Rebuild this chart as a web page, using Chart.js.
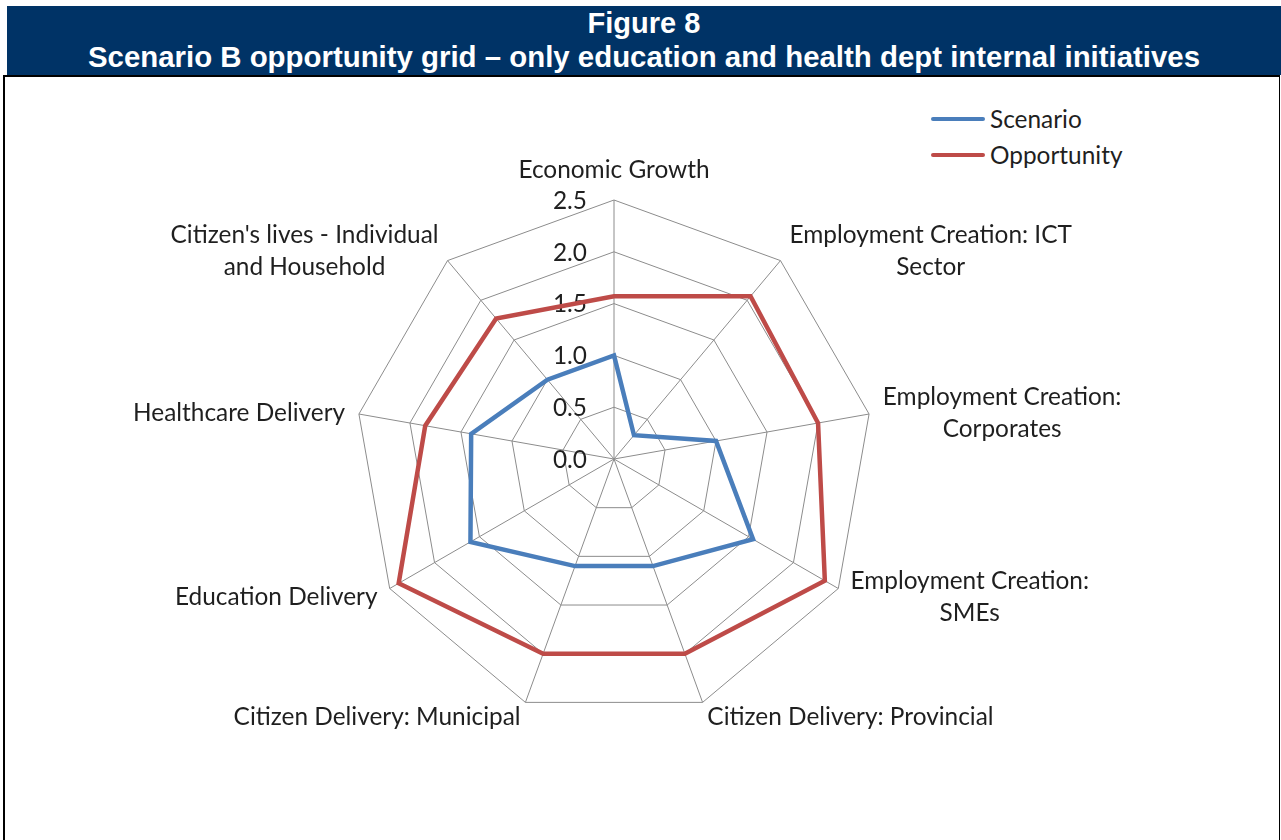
<!DOCTYPE html>
<html>
<head>
<meta charset="utf-8">
<title>Figure 8</title>
<script src="https://cdn.jsdelivr.net/npm/chart.js@4/dist/chart.umd.min.js"></script>
<style>
  html, body { margin: 0; padding: 0; background: #fff; }
  body { width: 1281px; height: 840px; position: relative; overflow: hidden; font-family: Lato, "Open Sans", sans-serif; }
  #band { position: absolute; left: 7px; top: 6px; width: 1274px; height: 69px; background: #003366; }
  .head { position: absolute; left: 7px; width: 1274px; text-align: center; color: #fff;
          font-family: "Liberation Sans", Arial, sans-serif; font-weight: bold; line-height: 1; white-space: nowrap; }
  #h1 { top: 8.8px; font-size: 29px; }
  #h2 { top: 41.5px; font-size: 29.4px; }
  #frame { position: absolute; left: 3px; top: 75px; width: 1277px; height: 800px; box-sizing: border-box;
           border-left: 2px solid #000; border-top: 2px solid #000; border-right: 1px solid #000; }
  #chart { position: absolute; left: 0; top: 0; }
  .key { position: absolute; left: 931px; height: 32px; display: flex; align-items: center; }
  .key i { display: block; width: 54px; height: 4px; border-radius: 2px; margin-right: 5px; }
  .key span { font-size: 24.4px; color: #1f1f1f; line-height: 32px; }
</style>
</head>
<body>
<div id="band"></div>
<div class="head" id="h1">Figure 8</div>
<div class="head" id="h2">Scenario B opportunity grid – only education and health dept internal initiatives</div>
<div id="frame"></div>
<div class="key" style="top:103px"><i style="background:#4A7EBB"></i><span>Scenario</span></div>
<div class="key" style="top:139px"><i style="background:#BE4B48"></i><span>Opportunity</span></div>
<canvas id="chart" width="1281" height="840"></canvas>
<script>
// Axis categories (each entry is a list of label lines)
const categories = [
  ['Economic Growth'],
  ['Employment Creation: ICT', 'Sector'],
  ['Employment Creation:', 'Corporates'],
  ['Employment Creation:', 'SMEs'],
  ['Citizen Delivery: Provincial'],
  ['Citizen Delivery: Municipal'],
  ['Education Delivery'],
  ['Healthcare Delivery'],
  ["Citizen's lives - Individual", 'and Household']
];

const scenarioValues    = [1.0, 0.3, 1.0, 1.55, 1.1, 1.1, 1.6, 1.4, 1.0];
const opportunityValues = [1.57, 2.05, 2.0, 2.35, 2.0, 2.0, 2.4, 1.85, 1.77];

const scaleMin = 0;
const scaleMax = 2.5;
const scaleStep = 0.5;

const textColor = '#1f1f1f';
const labelFont = '24.4px Lato, "Open Sans", sans-serif';
const lineGap = 32;

// Value labels sit to the left of the vertical axis, under the series lines
const tickLabelPlugin = {
  id: 'tickLabels',
  beforeDatasetsDraw(chart) {
    const s = chart.scales.r;
    const ctx = chart.ctx;
    ctx.save();
    ctx.font = labelFont;
    ctx.fillStyle = textColor;
    ctx.textAlign = 'right';
    ctx.textBaseline = 'middle';
    s.ticks.forEach(t => {
      const d = s.getDistanceFromCenterForValue(t.value);
      ctx.fillText(t.label, s.xCenter - 27, s.yCenter - d + 1);
    });
    ctx.restore();
  }
};

// Category names placed just beyond each spoke's outer end
const categoryLabelPlugin = {
  id: 'categoryLabels',
  afterDraw(chart) {
    const s = chart.scales.r;
    const ctx = chart.ctx;
    const n = chart.data.labels.length;
    ctx.save();
    ctx.font = labelFont;
    ctx.fillStyle = textColor;
    ctx.textAlign = 'center';
    ctx.textBaseline = 'middle';
    chart.data.labels.forEach((lines, i) => {
      const p = s.getPointPosition(i, s.drawingArea + 14);
      const deg = (360 / n) * i;
      const w = Math.max(...lines.map(l => ctx.measureText(l).width));
      let cx, cy = p.y + 1.5;
      if (deg === 0) {
        cx = p.x;
        cy = p.y - (lines.length * lineGap) / 2;
      } else if (deg < 180) {
        cx = p.x + w / 2;
      } else {
        cx = p.x - w / 2;
      }
      lines.forEach((l, k) => {
        ctx.fillText(l, cx, cy + (k - (lines.length - 1) / 2) * lineGap);
      });
    });
    ctx.restore();
  }
};

new Chart(document.getElementById('chart'), {
  type: 'radar',
  data: {
    labels: categories,
    datasets: [
      { label: 'Scenario', data: scenarioValues, borderColor: '#4A7EBB', backgroundColor: '#4A7EBB',
        borderWidth: 4.5, fill: false, pointRadius: 0, pointHoverRadius: 0, tension: 0 },
      { label: 'Opportunity', data: opportunityValues, borderColor: '#BE4B48', backgroundColor: '#BE4B48',
        borderWidth: 4.5, fill: false, pointRadius: 0, pointHoverRadius: 0, tension: 0 }
    ]
  },
  options: {
    responsive: false,
    animation: false,
    devicePixelRatio: 1,
    layout: { padding: { left: 355, right: 408, top: 200, bottom: 122 } },
    plugins: { legend: { display: false }, tooltip: { enabled: false } },
    scales: {
      r: {
        min: scaleMin,
        max: scaleMax,
        ticks: { stepSize: scaleStep, display: false, callback: v => v.toFixed(1) },
        grid: { color: '#8c8c8c', lineWidth: 1 },
        angleLines: { color: '#8c8c8c', lineWidth: 1 },
        pointLabels: { display: false }
      }
    }
  },
  plugins: [tickLabelPlugin, categoryLabelPlugin]
});
</script>
</body>
</html>
